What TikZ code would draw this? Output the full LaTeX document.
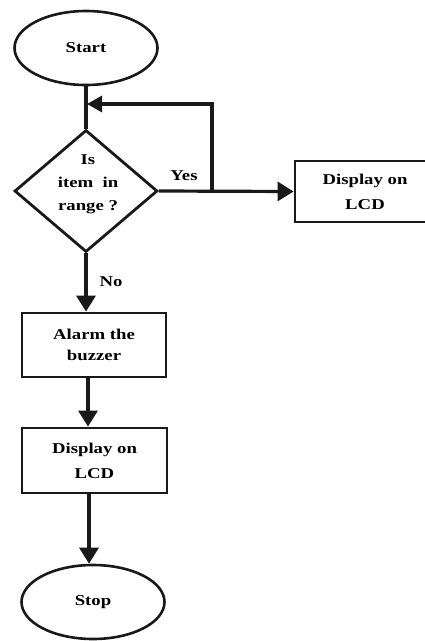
\documentclass[tikz,border=0pt]{standalone}
\usepackage{fontspec}
\setmainfont{Liberation Serif}[FakeStretch=1.25]
\usetikzlibrary{shapes.geometric,arrows.meta}
\begin{document}
\begin{tikzpicture}[x=1pt,y=-1pt,
  ink/.style={draw=black!90},
  term/.style={ink,ellipse,line width=2.6pt,inner sep=0pt,minimum width=143pt,minimum height=74pt,font=\fontsize{15}{24}\selectfont\bfseries},
  proc/.style={ink,rectangle,line width=2.8pt,inner sep=0pt,align=center,font=\fontsize{15}{25}\selectfont\bfseries},
  dia/.style={ink,diamond,line width=2.8pt,inner sep=0pt,aspect=1.17,minimum width=143pt,minimum height=122pt},
  txt/.style={align=center,inner sep=0pt,font=\fontsize{15}{23}\selectfont\bfseries},
  conn/.style={draw=black!90,line width=3.2pt},
  arr/.style={conn,-{Triangle[length=16pt,width=19pt]}},
  arrs/.style={conn,-{Triangle[length=15pt,width=16pt]}}
]
\useasboundingbox (0,0) rectangle (425,641);
\clip (0,0) rectangle (425,641);
\node[term] (start) at (86,48) {Start};
\node[dia] (d) at (86,191) {};
\node[txt] (dt) at (88,184) {Is\\item\ \ in\\range ?};
\node[proc,minimum width=140pt,minimum height=61pt] (rb) at (365,191.5) {Display on\\LCD};
\node[proc,minimum width=144pt,minimum height=64pt,font=\fontsize{15}{21}\selectfont\bfseries] (al) at (94,345) {Alarm the\\buzzer};
\node[proc,minimum width=145pt,minimum height=65pt] (dl) at (94.5,460.5) {Display on\\LCD};
\node[term] (stop) at (93,602) {Stop};
\node[txt] (yes) at (184,176) {Yes};
\node[txt] (no) at (111,282) {No};
\coordinate (j) at (212,191);
\coordinate (k) at (212,104);
\coordinate (m) at (87,104);
\draw[conn] (start.south) -- (d.north);
\draw[arr] (d.east) -- (rb.west);
\draw[arrs] (j) -- (k) -- (m);
\draw[arr] (d.south) -- (d.south |- al.north);
\draw[arr] (al.south -| 88,0) -- (dl.north -| 88,0);
\draw[arr] (dl.south -| 89,0) -- (stop.north -| 89,0);
\end{tikzpicture}
\end{document}
